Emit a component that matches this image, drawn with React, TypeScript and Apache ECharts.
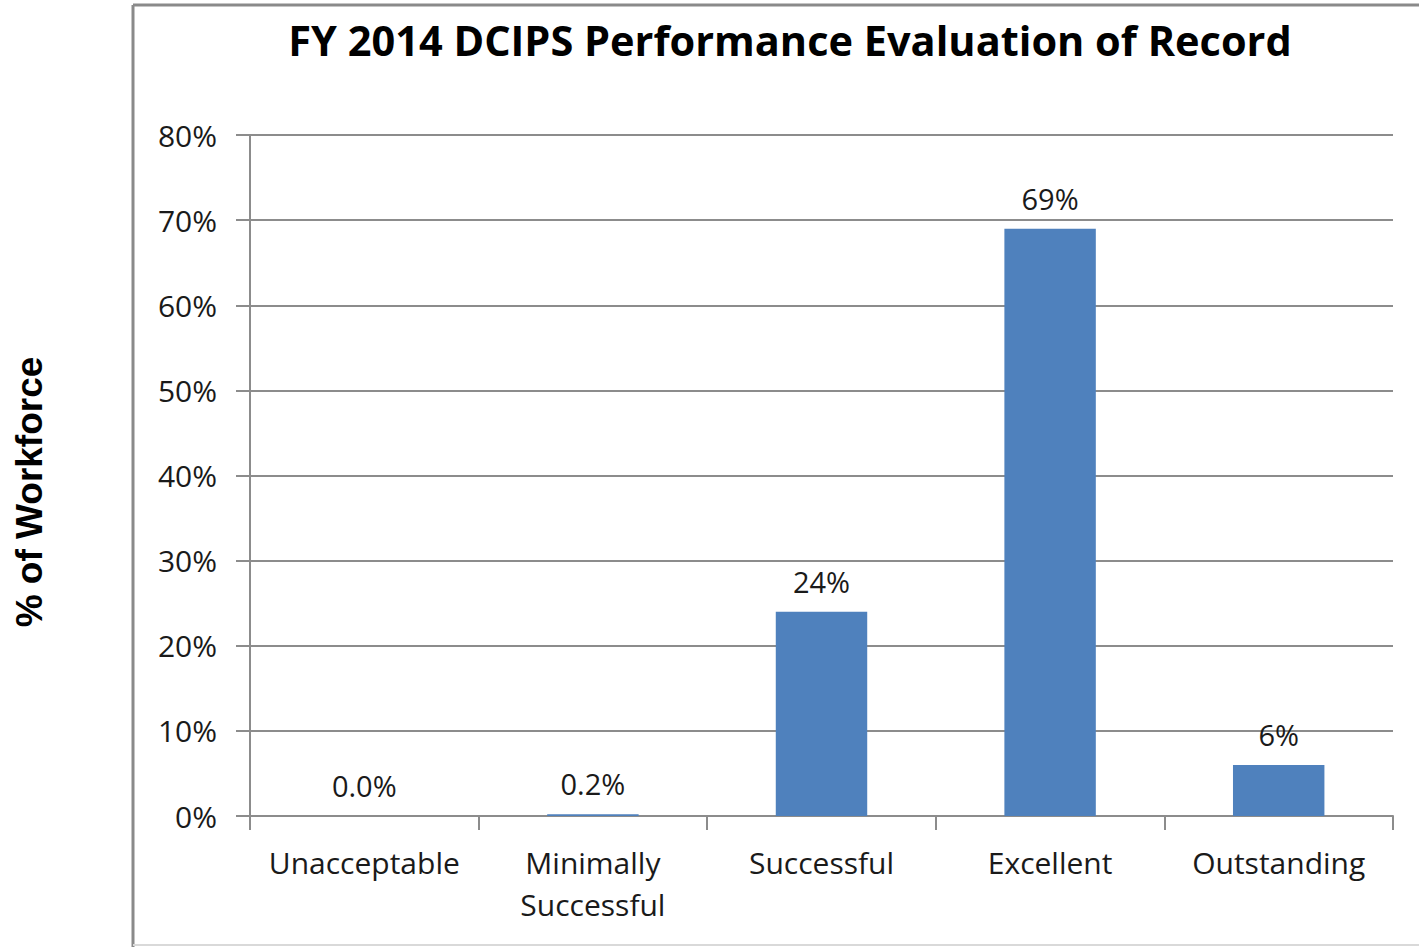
import React, { useEffect, useRef } from "react";
import * as echarts from "echarts";

const chartTitle = "FY 2014 DCIPS Performance Evaluation of Record";
const yAxisTitle = "% of Workforce";
const categories = ["Unacceptable", "Minimally\nSuccessful", "Successful", "Excellent", "Outstanding"];
const values = [0.0, 0.2, 24, 69, 6];
const valueLabels = ["0.0%", "0.2%", "24%", "69%", "6%"];
const yMin = 0;
const yMax = 80;
const yStep = 10;

const FONT = "'Open Sans', sans-serif";
const GRID_COLOR = "#8c8c8c";

export default function App() {
  const ref = useRef<HTMLDivElement>(null);
  useEffect(() => {
    if (!ref.current) return;
    const chart = echarts.init(ref.current, undefined, { renderer: "svg" });
    chart.setOption({
      animation: false,
      backgroundColor: "#ffffff",
      textStyle: { fontFamily: FONT },
      grid: { left: 250, right: 26, top: 135, bottom: 131, containLabel: false },
      xAxis: {
        type: "category",
        data: categories,
        axisLine: { show: true, lineStyle: { color: GRID_COLOR, width: 2 } },
        axisTick: { show: true, length: 14, lineStyle: { color: GRID_COLOR, width: 2 } },
        axisLabel: {
          interval: 0,
          margin: 25,
          fontFamily: FONT,
          fontSize: 30,
          lineHeight: 42,
          color: "#1a1a1a",
        },
      },
      yAxis: {
        type: "value",
        min: yMin,
        max: yMax,
        interval: yStep,
        axisLine: { show: true, lineStyle: { color: GRID_COLOR, width: 2 } },
        axisTick: { show: true, length: 14, lineStyle: { color: GRID_COLOR, width: 2 } },
        splitLine: { show: true, lineStyle: { color: GRID_COLOR, width: 2 } },
        axisLabel: {
          formatter: "{value}%",
          margin: 33,
          fontFamily: FONT,
          fontSize: 30,
          color: "#1a1a1a",
        },
      },
      series: [
        {
          type: "bar",
          data: values,
          barWidth: "40%",
          itemStyle: { color: "#4f81bd" },
          label: {
            show: true,
            position: "top",
            distance: 16,
            fontFamily: FONT,
            fontSize: 29,
            color: "#1a1a1a",
            formatter: (p: any) => valueLabels[p.dataIndex],
          },
        },
      ],
      graphic: [
        { type: "line", shape: { x1: 133, y1: 5, x2: 1419, y2: 5 }, style: { stroke: "#8a8a8a", lineWidth: 3 } },
        { type: "line", shape: { x1: 133, y1: 5, x2: 133, y2: 947 }, style: { stroke: "#8a8a8a", lineWidth: 3 } },
        { type: "line", shape: { x1: 133, y1: 945, x2: 1419, y2: 945 }, style: { stroke: "#d9d9d9", lineWidth: 2 } },
        {
          type: "text",
          x: 790,
          y: 40,
          style: {
            text: chartTitle,
            font: `bold 41.5px ${FONT}`,
            fill: "#000000",
            textAlign: "center",
            textVerticalAlign: "middle",
          },
        },
        {
          type: "text",
          x: 29,
          y: 492,
          rotation: Math.PI / 2,
          style: {
            text: yAxisTitle,
            font: "bold 37px 'Liberation Sans', Arial, sans-serif",
            fill: "#000000",
            textAlign: "center",
            textVerticalAlign: "middle",
          },
        },
      ],
    });
    return () => chart.dispose();
  }, []);
  return (
    <div
      ref={ref}
      style={{ position: "fixed", left: 0, top: 0, width: 1419, height: 947, background: "#fff" }}
    />
  );
}
